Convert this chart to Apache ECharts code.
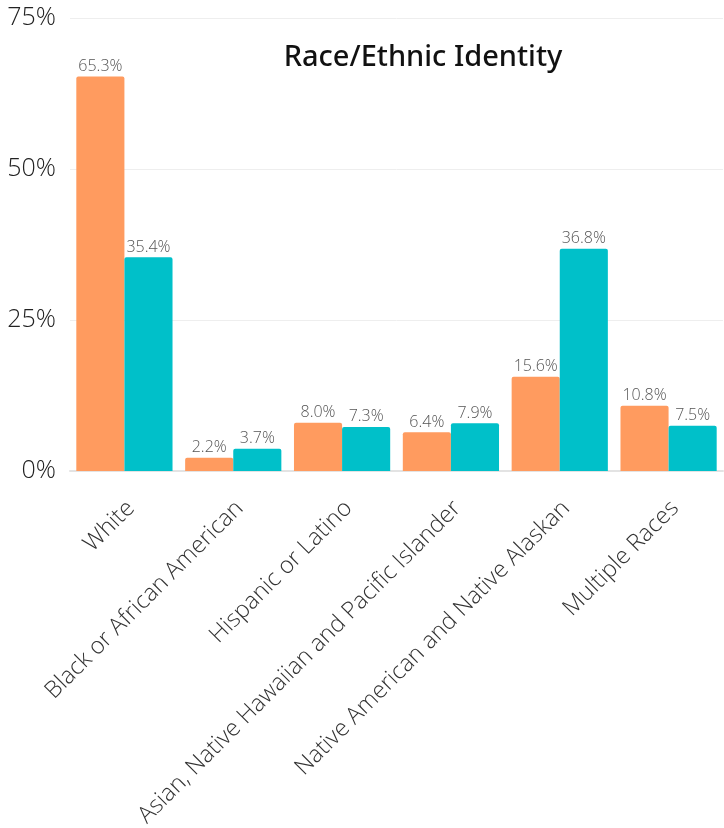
<!DOCTYPE html>
<html><head><meta charset="utf-8">
<script src="https://cdn.jsdelivr.net/npm/echarts@6/dist/echarts.min.js"></script>
<style>html,body{margin:0;padding:0;background:#fff}#c{width:724px;height:828px}</style>
</head><body><div id="c"></div>
<script>
const categories = ["White","Black or African American","Hispanic or Latino","Asian, Native Hawaiian and Pacific Islander","Native American and Native Alaskan","Multiple Races"];
const seriesA = [65.3, 2.2, 8.0, 6.4, 15.6, 10.8];
const seriesB = [35.4, 3.7, 7.3, 7.9, 36.8, 7.5];
const yTicks = [0, 25, 50, 75];
const titleText = "Race/Ethnic Identity";

const chart = echarts.init(document.getElementById('c'));
const lbl = {show:true, position:'top', distance:2, color:'#555', fontFamily:'Open Sans', fontWeight:300, fontSize:16,
  formatter: p => p.value.toFixed(1) + '%'};
chart.setOption({
  animation:false,
  title:{text:titleText, left:418, top:38, textAlign:'center',
    textStyle:{fontFamily:'Noto Sans', fontWeight:500, fontSize:29, color:'#111'}},
  grid:{left:70, right:1, top:18, bottom:357, containLabel:false, outerBoundsMode:'none'},
  xAxis:{type:'category', data:categories,
    axisLine:{lineStyle:{color:'#e3e3e3', width:2}}, axisTick:{show:false},
    axisLabel:{rotate:45, interval:0, margin:40, padding:[0,-9,0,0], fontFamily:'Open Sans', fontWeight:300, fontSize:23.5, color:'#333'}},
  yAxis:{type:'value', min:yTicks[0], max:yTicks[yTicks.length-1], interval:25,
    axisLine:{show:false}, axisTick:{show:false},
    splitLine:{lineStyle:{color:'#eeeeee'}},
    axisLabel:{formatter:'{value}%', margin:14, fontFamily:'Open Sans', fontWeight:300, fontSize:25, color:'#222'}},
  series:[
    {type:'bar', data:seriesA, barGap:'0%', barCategoryGap:'11.6%',
      itemStyle:{color:'#FF9B5F', borderRadius:[2,2,0,0]}, label:lbl},
    {type:'bar', data:seriesB, barGap:'0%', barCategoryGap:'11.6%',
      itemStyle:{color:'#00C0C9', borderRadius:[2,2,0,0]}, label:lbl}
  ]
});
</script></body></html>
